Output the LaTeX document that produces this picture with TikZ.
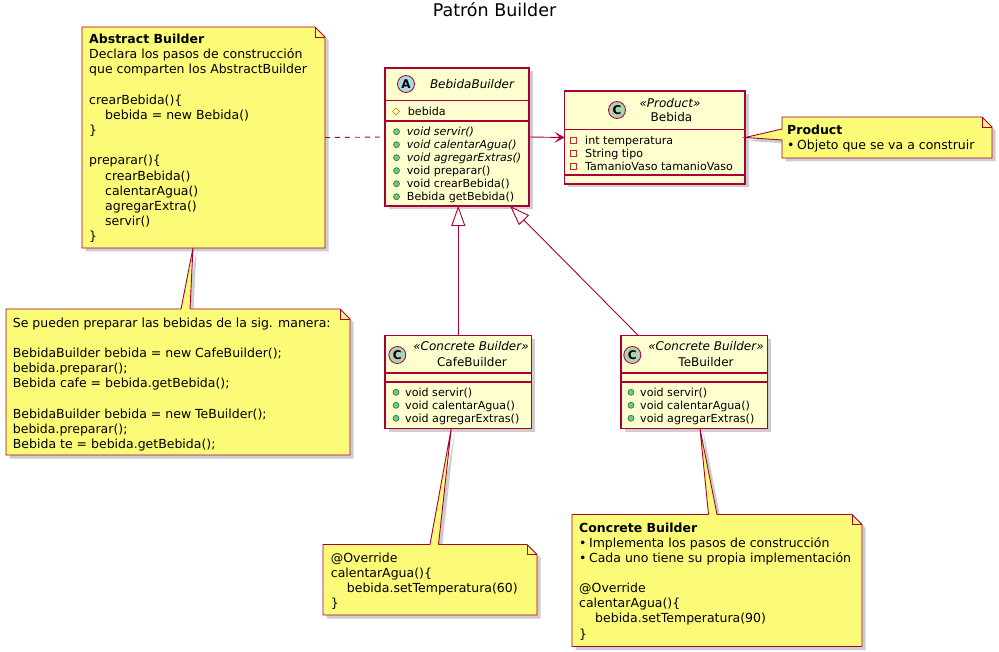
\documentclass[tikz,border=0pt]{standalone}
\usepackage{fontspec}
\setmainfont{DejaVu Sans}
\usetikzlibrary{arrows.meta,shadows}
\definecolor{classfill}{HTML}{FEFECE}
\definecolor{umlred}{HTML}{A80036}
\definecolor{notefill}{HTML}{FBFB77}
\definecolor{ciconfill}{HTML}{ADD1B2}
\definecolor{aiconfill}{HTML}{A9DCDF}
\definecolor{pubfill}{HTML}{84BE84}
\definecolor{pubdraw}{HTML}{038048}
\definecolor{privdraw}{HTML}{C82930}
\definecolor{protdraw}{HTML}{B38D22}
\newcommand{\fsz}[2]{\fontsize{#1}{#2}\selectfont}
\newcommand{\blank}{\\[15.15pt]}
\newcommand{\ind}{\hspace*{16pt}}
\newcommand{\bul}{•\hspace{2.5pt}}
\newcommand{\notepath}[1]{%
  \path[notebox] (#1.north west) -- ([xshift=-10pt]#1.north east) -- ([yshift=-10pt]#1.north east) -- (#1.south east) -- (#1.south west) -- cycle;
  \draw[noteline] ([xshift=-10pt]#1.north east) -- ([xshift=-10pt,yshift=-10pt]#1.north east) -- ([yshift=-10pt]#1.north east);}
\begin{document}
\begin{tikzpicture}[x=1pt,y=-1pt,
  shadowed/.style={drop shadow={shadow xshift=3.5pt,shadow yshift=-3.5pt,opacity=.35,fill=black!55}},
  classbox/.style={rectangle,anchor=north west,inner sep=0pt,outer sep=0pt,draw=umlred,fill=classfill,line width=1.2pt,shadowed},
  notegeom/.style={rectangle,anchor=north west,inner sep=0pt,outer sep=0pt},
  notebox/.style={fill=notefill,draw=umlred,line width=0.9pt,shadowed},
  noteline/.style={draw=umlred,line width=0.9pt},
  sepline/.style={draw=umlred,line width=1.2pt},
  notetext/.style={anchor=north west,inner sep=0pt,align=left,font=\fsz{12.5}{15.15}},
  membertext/.style={anchor=north west,inner sep=0pt,align=left,font=\fsz{11.1}{13}},
  headtext/.style={anchor=base,inner sep=0pt,font=\fsz{12}{14}},
  iconA/.style={circle,draw=umlred,fill=aiconfill,minimum size=17pt,inner sep=0pt,line width=0.8pt,font=\fsz{12}{12}\bfseries},
  iconC/.style={iconA,fill=ciconfill},
  pubicon/.style={draw=pubdraw,fill=pubfill,line width=0.6pt},
  privicon/.style={draw=privdraw,line width=0.7pt},
  proticon/.style={draw=protdraw,line width=0.7pt},
  assoc/.style={draw=umlred,line width=0.9pt,-{Stealth[length=10pt,width=11pt,inset=5pt]}},
  inherit/.style={draw=umlred,line width=0.9pt,-{Triangle[open,length=20pt,width=14pt]}},
  dashlink/.style={draw=umlred,line width=0.9pt,dash pattern=on 5pt off 5pt}
]
\path[use as bounding box,fill=white] (0,0) rectangle (999,652);

% title
\node[anchor=base,inner sep=0pt,font=\fsz{17.5}{20}] (title) at (494.5,17) {Patrón Builder};

% geometry of notes
\node[notegeom,minimum width=243pt,minimum height=221pt] (an) at (82,27) {};
\node[notegeom,minimum width=344pt,minimum height=146pt] (sp) at (6,309) {};
\node[notegeom,minimum width=210pt,minimum height=41pt] (pn) at (782,117) {};
\node[notegeom,minimum width=214pt,minimum height=70.5pt] (cn) at (323,544.5) {};
\node[notegeom,minimum width=290pt,minimum height=132pt] (tn) at (572,514.5) {};

% classes
\node[classbox,minimum width=144pt,minimum height=138pt] (bb) at (385,68) {};
\node[classbox,minimum width=180.5pt,minimum height=93pt] (beb) at (564.5,91) {};
\node[classbox,minimum width=146.5pt,minimum height=93pt] (cafe) at (385,335.5) {};
\node[classbox,minimum width=146.5pt,minimum height=93pt] (te) at (621,335.5) {};

% wedge points
\coordinate (w1a) at ([xshift=-10.5pt]an.south);
\coordinate (w1b) at ([xshift=3pt]sp.north);
\coordinate (w1c) at ([xshift=12pt]sp.north);
\coordinate (w2a) at (beb.east);
\coordinate (w2b) at ([yshift=8.5pt]pn.west);
\coordinate (w2c) at ([yshift=-2.5pt]pn.west);
\coordinate (w3a) at ([xshift=-7pt]cafe.south);
\coordinate (w3b) at (cn.north);
\coordinate (w3c) at ([xshift=8.5pt]cn.north);
\coordinate (w4a) at ([xshift=5.7pt]te.south);
\coordinate (w4b) at ([xshift=-8.5pt]tn.north);
\coordinate (w4c) at (tn.north);

% wedge shadows
\fill[notefill,shadowed] (w1a) -- (w1b) -- (w1c) -- cycle;
\fill[notefill,shadowed] (w2a) -- (w2b) -- (w2c) -- cycle;
\fill[notefill,shadowed] (w3a) -- (w3b) -- (w3c) -- cycle;
\fill[notefill,shadowed] (w4a) -- (w4b) -- (w4c) -- cycle;

% notes
\notepath{an}
\notepath{sp}
\notepath{pn}
\notepath{cn}
\notepath{tn}

% wedge overlays
\fill[notefill] (w1a) -- ([yshift=-1.5pt]w1b) -- ([yshift=-1.5pt]w1c) -- cycle;
\draw[noteline] (w1b) -- (w1a) -- (w1c);
\fill[notefill] (w2a) -- ([xshift=1.5pt]w2b) -- ([xshift=1.5pt]w2c) -- cycle;
\draw[noteline] (w2b) -- (w2a) -- (w2c);
\fill[notefill] (w3a) -- ([yshift=-1.5pt]w3b) -- ([yshift=-1.5pt]w3c) -- cycle;
\draw[noteline] (w3b) -- (w3a) -- (w3c);
\fill[notefill] (w4a) -- ([yshift=-1.5pt]w4b) -- ([yshift=-1.5pt]w4c) -- cycle;
\draw[noteline] (w4b) -- (w4a) -- (w4c);

% note texts
\node[notetext] (antext) at (89,33.5) {\rule{0pt}{10pt}\textbf{Abstract Builder}\\
Declara los pasos de construcción\\
que comparten los AbstractBuilder\blank
crearBebida()\{\\
\ind bebida = new Bebida()\\
\}\blank
preparar()\{\\
\ind crearBebida()\\
\ind calentarAgua()\\
\ind agregarExtra()\\
\ind servir()\\
\}};
\node[notetext] (sptext) at (12.7,317) {\rule{0pt}{10pt}Se pueden preparar las bebidas de la sig. manera:\blank
BebidaBuilder bebida = new CafeBuilder();\\
bebida.preparar();\\
Bebida cafe = bebida.getBebida();\blank
BebidaBuilder bebida = new TeBuilder();\\
bebida.preparar();\\
Bebida te = bebida.getBebida();};
\node[notetext,font=\fsz{12.5}{14.5}] (pntext) at (787,124.5) {\rule{0pt}{10pt}\textbf{Product}\\
\bul Objeto que se va a construir};
\node[notetext] (cntext) at (330.7,551.8) {\rule{0pt}{10pt}@Override\\
calentarAgua()\{\\
\ind bebida.setTemperatura(60)\\
\}};
\node[notetext] (tntext) at (579,521.8) {\rule{0pt}{10pt}\textbf{Concrete Builder}\\
\bul Implementa los pasos de construcción\\
\bul Cada uno tiene su propia implementación\blank
@Override\\
calentarAgua()\{\\
\ind bebida.setTemperatura(90)\\
\}};

% separators
\draw[sepline] (385,100.5) -- (529,100.5);
\draw[sepline] (385,121) -- (529,121);
\draw[sepline] (564.5,129.5) -- (745,129.5);
\draw[sepline] (564.5,175) -- (745,175);
\draw[sepline] (385,373) -- (531.5,373);
\draw[sepline] (385,382) -- (531.5,382);
\draw[sepline] (621,373) -- (767.5,373);
\draw[sepline] (621,382) -- (767.5,382);

% headers
\node[iconA] (bbicon) at (406,84) {A};
\node[headtext,font=\fsz{12}{14}\itshape] (bbname) at (472,88.4) {BebidaBuilder};
\node[iconC] (bebicon) at (617,110) {C};
\node[headtext,font=\fsz{12}{14}\itshape] (bebst) at (670,107.3) {«Product»};
\node[headtext] (bebname) at (671.5,121.7) {Bebida};
\node[iconC] (cafeicon) at (397.3,355) {C};
\node[headtext,font=\fsz{12}{14}\itshape] (cafest) at (471,351) {«Concrete Builder»};
\node[headtext] (cafename) at (472,366.7) {CafeBuilder};
\node[iconC] (teicon) at (632.3,355) {C};
\node[headtext,font=\fsz{12}{14}\itshape] (test) at (706,351) {«Concrete Builder»};
\node[headtext] (tename) at (706,366.7) {TeBuilder};

% members
\draw[proticon] (396,108) -- (399.5,111.5) -- (396,115) -- (392.5,111.5) -- cycle;
\node[membertext] (bbattr) at (407.7,106) {\rule{0pt}{9pt}bebida};
\foreach \k in {0,...,5} {\filldraw[pubicon] (396.5,131.7+13*\k) circle (3pt);}
\node[membertext] (bbmeth) at (406.7,126.7) {\rule{0pt}{9pt}\textit{void servir()}\\
\textit{void calentarAgua()}\\
\textit{void agregarExtras()}\\
void preparar()\\
void crearBebida()\\
Bebida getBebida()};
\foreach \k in {0,1,2} {\draw[privicon] (570.5,137+13*\k) rectangle (576.5,143+13*\k);}
\node[membertext] (bebattr) at (585,135) {\rule{0pt}{9pt}int temperatura\\
String tipo\\
TamanioVaso tamanioVaso};
\foreach \k in {0,1,2} {\filldraw[pubicon] (396,392.3+13*\k) circle (3pt);
  \filldraw[pubicon] (631,392.3+13*\k) circle (3pt);}
\node[membertext] (cafemeth) at (405,387.3) {\rule{0pt}{9pt}void servir()\\
void calentarAgua()\\
void agregarExtras()};
\node[membertext] (temeth) at (640,387.3) {\rule{0pt}{9pt}void servir()\\
void calentarAgua()\\
void agregarExtras()};

% connectors
\draw[dashlink] (an.east) -- (bb.west);
\draw[assoc] (bb.east) -- (beb.west);
\draw[inherit] (cafe.north) -- (cafe.north |- bb.south);
\draw[inherit] ([xshift=17.3pt]te.north west) -- ([xshift=-19pt]bb.south east);
\end{tikzpicture}
\end{document}
